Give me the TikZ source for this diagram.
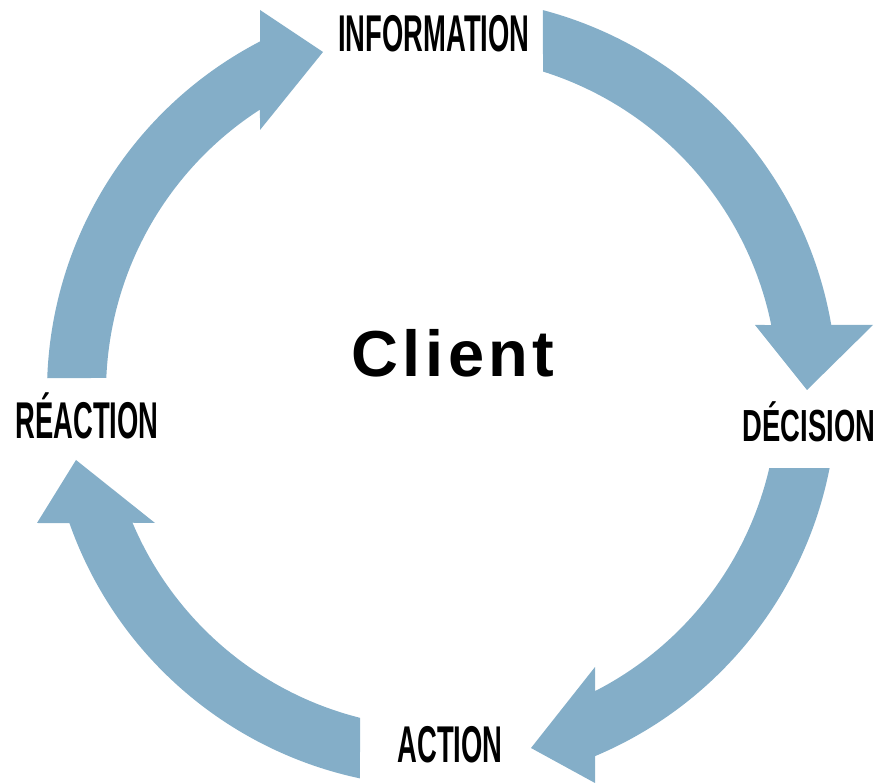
\documentclass[tikz,border=0pt]{standalone}
\usepackage{fontspec}
\setmainfont{Liberation Sans}
\newfontfamily\clientfont[LetterSpace=7]{Liberation Sans}
\usepackage{tikz}
\usetikzlibrary{positioning}
\definecolor{ringblue}{RGB}{132,174,200}
\tikzset{band/.style={fill=ringblue}}
\tikzset{lbl/.style={font=\bfseries\fontsize{51.7}{52}\selectfont, xscale=0.53, transform shape, anchor=base, inner sep=0pt}}

\begin{document}
\begin{tikzpicture}[x=1pt,y=1pt]
\useasboundingbox (0,0) rectangle (880,783);
\begin{scope}[shift={(442,391)}]
% information -> decision
\fill[band] (75.2:395) arc[start angle=75.2, end angle=9.8, radius=395] -- (431,67) -- (365,2) -- (313,67) -- (11.5:336) arc[start angle=11.5, end angle=72.5, radius=336] -- cycle;
% decision -> action
\fill[band] (-11.1:395) arc[start angle=-11.1, end angle=-67.2, radius=395] -- (153,-391) -- (89,-356) -- (153,-275) -- (-62.9:336) arc[start angle=-62.9, end angle=-13.1, radius=336] -- cycle;
% action -> reaction
\fill[band] (258:395) arc[start angle=258, end angle=199.4, radius=395] -- (-405,-131) -- (-366,-68) -- (-287,-131) -- (202.9:336) arc[start angle=202.9, end angle=255.9, radius=336] -- cycle;
% reaction -> information
\fill[band] (178:395) arc[start angle=178, end angle=117.4, radius=395] -- (-182,382) -- (-119,340) -- (-182,262) -- (122.8:336) arc[start angle=122.8, end angle=177.6, radius=336] -- cycle;
\end{scope}
\node[lbl] (info) at (434,731) {INFORMATION};
\node[lbl, yscale=0.87] (deci) at (809,341) {DÉCISION};
\node[lbl] (acti) at (450,20) {ACTION};
\node[lbl] (reac) at (87,344) {RÉACTION};
\node[anchor=base, inner sep=0pt, font=\clientfont\bfseries\fontsize{65}{66}\selectfont] (client) at (453,406) {Client};
\end{tikzpicture}
\end{document}
